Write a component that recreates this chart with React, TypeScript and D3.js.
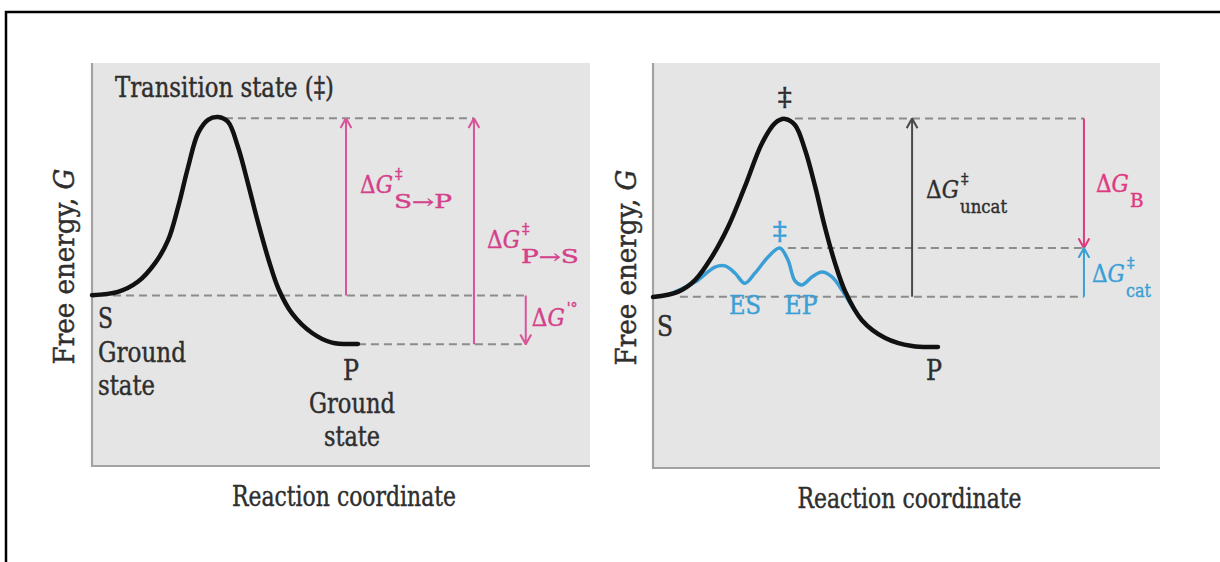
import React from 'react';
import * as d3 from 'd3';

const W = 1220, H = 562;

/* ── data: reaction coordinate (0–100) vs free energy (0–100) ── */
const uncatX_A = [0, 5.2, 9.2, 12.7, 15.3, 17.3, 19.3, 21.3, 23.3, 25.3, 27.3, 29.3, 31.3, 33.3, 35.5, 37.5, 40.2, 44.2, 48.2, 53.4];
const uncatG_A = [42.4, 43.2, 45.7, 50.4, 56.1, 64.3, 74.2, 82.6, 85.9, 86.6, 85.4, 79.2, 70.2, 60.6, 51.0, 43.8, 37.8, 33.0, 30.6, 30.3];

const uncatX_B = [0, 4.9, 8.3, 11.6, 14.8, 18.1, 21.5, 24.1, 26.0, 28.0, 30.0, 32.0, 33.9, 35.9, 37.9, 41.2, 45.8, 51.1, 56.2];
const uncatG_B = [42.2, 43.5, 46.4, 52.1, 59.5, 69.4, 80.2, 85.2, 86.2, 84.7, 78.5, 69.4, 59.5, 50.6, 43.6, 36.5, 32.1, 30.1, 29.9];

const catX = [3.5, 8.3, 12.2, 14.2, 16.2, 18.1, 20.1, 22.7, 25.0, 26.6, 28.0, 29.4, 31.4, 33.3, 35.3, 37.3, 39.3, 41.2];
const catG = [43.0, 45.9, 49.6, 49.9, 48.1, 45.6, 48.1, 52.1, 54.3, 51.4, 46.2, 45.2, 47.2, 48.4, 47.2, 43.9, 39.8, 36.5];

// energy levels
const G_S = 42.3, G_TS = 86.3, G_P = 30.2, G_TScat = 54.3;

// arrow positions along the reaction coordinate
const arrowsA = [51.0, 76.7, 87.1];   // ΔG‡S→P, ΔG‡P→S, ΔG'°
const arrowsB = [51.1, 85.0];         // ΔG‡uncat, ΔG_B / ΔG‡cat

/* ── style ── */
const FONT = '"DejaVu Serif", "Liberation Serif", serif';
const INK = '#2e2e2e';
const PINK = '#d8559a';
const PINK_TXT = '#d4408a';
const PINK_B = '#e0397f';
const BLUE = '#3a9fd6';
const DASH = '#8c8c8c';
const PANEL = '#e5e5e5';
const AXIS = '#a2a2a2';

const panels = [
  { x0: 92, x1: 590, y0: 63, y1: 466 },
  { x0: 653, x1: 1160, y0: 63, y1: 468 }
];

const scalesFor = p => ({
  x: d3.scaleLinear().domain([0, 100]).range([p.x0, p.x1]),
  y: d3.scaleLinear().domain([0, 100]).range([p.y1, p.y0])
});

const curvePath = (x, y, xs, gs) =>
  d3.line<number>()
    .x((_, i) => x(xs[i]))
    .y(d => y(d))
    .curve(d3.curveCatmullRom.alpha(0.5))(gs) || '';

function Marker({ id, color }) {
  return (
    <marker id={id} viewBox="0 0 10 12" refX="9.5" refY="6" markerWidth="11" markerHeight="13"
      markerUnits="userSpaceOnUse" orient="auto">
      <path d="M0.5,1 L9.5,6 L0.5,11" fill="none" stroke={color} strokeWidth={1.9} />
    </marker>
  );
}

/* ΔG with stacked super- and subscript */
function DeltaG({ x, y, color, sup = '', sub = '', subLen = 0, size = 25 }) {
  const gx = x + 35;
  return (
    <g fill={color} stroke={color} strokeWidth={0.4} fontFamily={FONT}>
      <text x={x} y={y} fontSize={size} textLength={33} lengthAdjust="spacingAndGlyphs">
        Δ<tspan fontStyle="italic">G</tspan></text>
      {sup && <text x={gx} y={y - size * 0.56} fontSize={size * 0.6}>{sup}</text>}
      {sub && (
        <text x={gx - 1} y={y + size * 0.58} fontSize={size * 0.74}
          {...(subLen ? { textLength: subLen, lengthAdjust: 'spacingAndGlyphs' } : {})}>{sub}</text>
      )}
    </g>
  );
}

function Label({ x, y, len, size = 27, anchor = 'start', children, fill = INK }) {
  return (
    <text x={x} y={y} fontSize={size} fontFamily={FONT} fill={fill} stroke={fill} strokeWidth={0.45}
      textAnchor={anchor} textLength={len} lengthAdjust="spacingAndGlyphs">{children}</text>
  );
}

function Frame({ p, ylabelX }) {
  return (
    <g>
      <rect x={p.x0} y={p.y0} width={p.x1 - p.x0} height={p.y1 - p.y0} fill={PANEL} />
      <path d={`M${p.x0},${p.y0} V${p.y1} H${p.x1}`} fill="none" stroke={AXIS} strokeWidth={2.2} />
      <Label x={(p.x0 + p.x1) / 2 + 3} y={p.y1 + 40} len={224} anchor="middle">Reaction coordinate</Label>
      <g transform={`translate(${ylabelX},${(p.y0 + p.y1) / 2 + 2}) rotate(-90)`}>
        <Label x={0} y={0} len={196} anchor="middle">Free energy, <tspan fontStyle="italic">G</tspan></Label>
      </g>
    </g>
  );
}

function PanelA() {
  const p = panels[0];
  const { x, y } = scalesFor(p);
  const dash = { stroke: DASH, strokeWidth: 2, strokeDasharray: '8 5' };
  return (
    <g>
      <Frame p={p} ylabelX={74} />
      {/* dashed energy levels */}
      <line x1={x(26.7)} x2={x(arrowsA[1])} y1={y(G_TS)} y2={y(G_TS)} {...dash} />
      <line x1={x(1.6)} x2={x(arrowsA[2])} y1={y(G_S)} y2={y(G_S)} {...dash} />
      <line x1={x(53.4)} x2={x(arrowsA[2])} y1={y(G_P)} y2={y(G_P)} {...dash} />

      {/* arrows */}
      <line x1={x(arrowsA[0])} x2={x(arrowsA[0])} y1={y(G_S)} y2={y(G_TS)} stroke={PINK} strokeWidth={2} markerEnd="url(#ahPink)" />
      <line x1={x(arrowsA[1])} x2={x(arrowsA[1])} y1={y(G_P)} y2={y(G_TS)} stroke={PINK} strokeWidth={2} markerEnd="url(#ahPink)" />
      <line x1={x(arrowsA[2])} x2={x(arrowsA[2])} y1={y(G_S)} y2={y(G_P)} stroke={PINK} strokeWidth={2} markerEnd="url(#ahPink)" />

      <path d={curvePath(x, y, uncatX_A, uncatG_A)} fill="none" stroke="#111" strokeWidth={4.5} strokeLinecap="round" />

      <Label x={115} y={97} len={219}>Transition state (‡)</Label>
      <Label x={98} y={328} len={15}>S</Label>
      <Label x={98} y={362} len={88}>Ground</Label>
      <Label x={98} y={395} len={57}>state</Label>
      <Label x={351} y={380} len={16} anchor="middle">P</Label>
      <Label x={352} y={413} len={86} anchor="middle">Ground</Label>
      <Label x={352} y={446} len={56} anchor="middle">state</Label>

      <DeltaG x={x(arrowsA[0]) + 14} y={193} color={PINK_TXT} sup="‡" sub="S→P" subLen={58} />
      <DeltaG x={x(arrowsA[1]) + 13} y={248} color={PINK_TXT} sup="‡" sub="P→S" subLen={58} />
      <g fill={PINK_TXT} stroke={PINK_TXT} strokeWidth={0.4} fontFamily={FONT}>
        <text x={x(arrowsA[2]) + 6} y={326} fontSize={25} textLength={33} lengthAdjust="spacingAndGlyphs">
          Δ<tspan fontStyle="italic">G</tspan></text>
        <text x={x(arrowsA[2]) + 41} y={313} fontSize={14}>'°</text>
      </g>
    </g>
  );
}

function PanelB() {
  const p = panels[1];
  const { x, y } = scalesFor(p);
  const dash = { stroke: DASH, strokeWidth: 2, strokeDasharray: '8 5' };
  return (
    <g>
      <Frame p={p} ylabelX={636} />
      <line x1={x(28)} x2={x(arrowsB[1])} y1={y(G_TS)} y2={y(G_TS)} {...dash} />
      <line x1={x(26.6)} x2={x(arrowsB[1])} y1={y(G_TScat)} y2={y(G_TScat)} {...dash} />
      <line x1={x(5.3)} x2={x(arrowsB[1])} y1={y(G_S)} y2={y(G_S)} {...dash} />

      <line x1={x(arrowsB[0])} x2={x(arrowsB[0])} y1={y(G_S)} y2={y(G_TS)} stroke="#4a4a4a" strokeWidth={2} markerEnd="url(#ahGray)" />
      <line x1={x(arrowsB[1])} x2={x(arrowsB[1])} y1={y(G_TS)} y2={y(G_TScat)} stroke={PINK_B} strokeWidth={2} markerEnd="url(#ahPinkB)" />
      <line x1={x(arrowsB[1])} x2={x(arrowsB[1])} y1={y(G_S)} y2={y(G_TScat)} stroke={BLUE} strokeWidth={2} markerEnd="url(#ahBlue)" />

      <path d={curvePath(x, y, catX, catG)} fill="none" stroke={BLUE} strokeWidth={3.5} strokeLinecap="round" />
      <path d={curvePath(x, y, uncatX_B, uncatG_B)} fill="none" stroke="#111" strokeWidth={4.5} strokeLinecap="round" />

      <Label x={x(26)} y={106} len={14} anchor="middle" size={26}>‡</Label>
      <Label x={x(25)} y={240} len={14} anchor="middle" size={26} fill={BLUE}>‡</Label>
      <Label x={745} y={314} len={32} anchor="middle" size={26} fill={BLUE}>ES</Label>
      <Label x={801} y={314} len={33} anchor="middle" size={26} fill={BLUE}>EP</Label>
      <Label x={657} y={336} len={16}>S</Label>
      <Label x={934} y={380} len={16} anchor="middle">P</Label>

      <DeltaG x={x(arrowsB[0]) + 14} y={198} color={INK} sup="‡" sub="uncat" subLen={47} />
      <DeltaG x={x(arrowsB[1]) + 12} y={192} color={PINK_B} sub="B" />
      <DeltaG x={x(arrowsB[1]) + 8} y={282} color={BLUE} sup="‡" sub="cat" subLen={25} />
    </g>
  );
}

export default function App() {
  return (
    <svg width={W} height={H} style={{ position: 'absolute', left: 0, top: 0, background: '#fff' }}>
      <defs>
        <Marker id="ahPink" color={PINK} />
        <Marker id="ahPinkB" color={PINK_B} />
        <Marker id="ahBlue" color={BLUE} />
        <Marker id="ahGray" color="#4a4a4a" />
      </defs>
      <rect x={6} y={12} width={W + 20} height={H + 20} fill="none" stroke="#000" strokeWidth={2.5} />
      <PanelA />
      <PanelB />
    </svg>
  );
}
